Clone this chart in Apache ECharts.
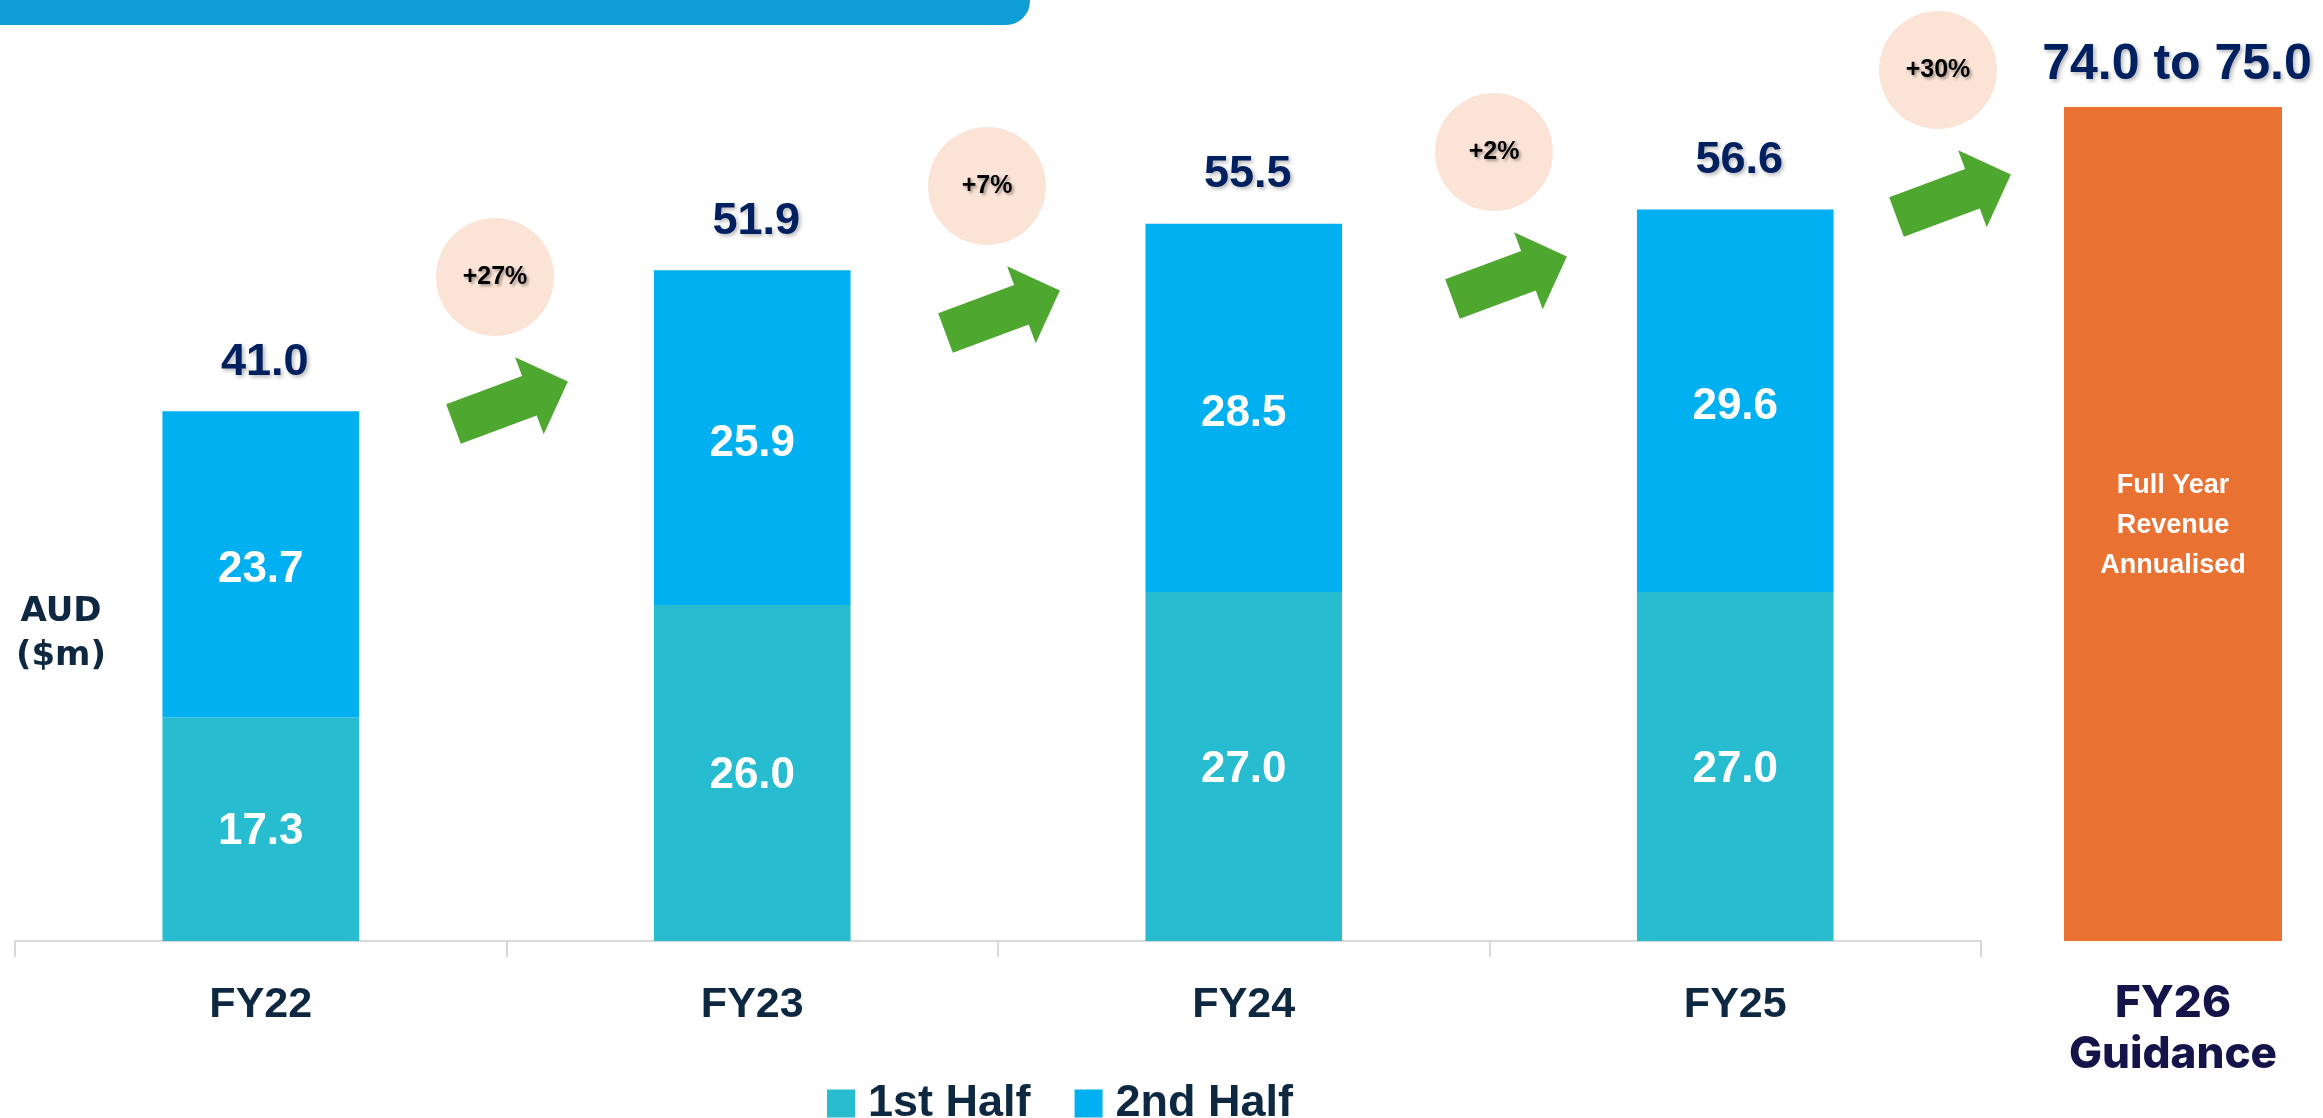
<!DOCTYPE html>
<html>
<head>
<meta charset="utf-8">
<script src="https://cdn.jsdelivr.net/npm/echarts@6/dist/echarts.min.js"></script>
<style>
  html, body { margin: 0; padding: 0; background: #fff; }
  #chart { width: 2323px; height: 1118px; }
</style>
</head>
<body>
<div id="chart"></div>
<script>
// data
var categories = ['FY22', 'FY23', 'FY24', 'FY25'];
var firstHalf = [17.3, 26.0, 27.0, 27.0];
var secondHalf = [23.7, 25.9, 28.5, 29.6];
var totals = [41.0, 51.9, 55.5, 56.6];
var guidanceCategory = ['FY26\nGuidance'];
var guidanceLow = 74.0;
var guidanceHigh = 75.0;
var growthLabels = ['+27%', '+7%', '+2%', '+30%'];

var navy = '#0E2841';
var font = '"Liberation Sans", Arial, sans-serif';

var chart = echarts.init(document.getElementById('chart'));

// growth bubbles + arrows (decoration, placed in pixels)
var bubbleCenters = [[495, 277], [987, 186], [1494, 152], [1938, 70]];
var arrowShape = [[0, -21], [81, -21], [81, -41], [122, 0], [81, 41], [81, 21], [0, 21]];
var deco = [];
deco.push({
    type: 'rect',
    shape: { x: -20, y: -40, width: 1050, height: 65, r: [0, 0, 24, 0] },
    style: { fill: '#0F9ED5' }
});
deco.push({
    type: 'text',
    x: 61, y: 634,
    style: {
        text: 'AUD\n($m)', font: 'bold 34px "DejaVu Sans", sans-serif', fill: navy,
        align: 'center', verticalAlign: 'middle', lineHeight: 44
    }
});
for (var i = 0; i < growthLabels.length; i++) {
    var c = bubbleCenters[i];
    deco.push({
        type: 'circle',
        shape: { cx: c[0], cy: c[1], r: 59 },
        style: { fill: '#FBE3D6' }
    });
    deco.push({
        type: 'text',
        x: c[0], y: c[1],
        style: {
            text: growthLabels[i], font: 'bold 25px ' + font, fill: '#000',
            align: 'center', verticalAlign: 'middle',
            textShadowColor: 'rgba(0,0,0,0.35)', textShadowBlur: 3,
            textShadowOffsetX: 2, textShadowOffsetY: 2
        }
    });
    deco.push({
        type: 'polygon',
        x: c[0] - 41.5, y: c[1] + 147,
        rotation: 0.356,
        shape: { points: arrowShape },
        style: { fill: '#4EA72E' }
    });
}

var topLabel = {
    show: true,
    position: 'top',
    offset: [4, 0],
    fontFamily: font,
    fontWeight: 'bold',
    color: '#002060',
    textShadowColor: 'rgba(0,0,0,0.3)',
    textShadowBlur: 4,
    textShadowOffsetX: 2,
    textShadowOffsetY: 2
};

var option = {
    backgroundColor: '#fff',
    animation: false,
    grid: [
        { left: 15, width: 1966, top: 101, bottom: 177 },
        { left: 2064, width: 218, top: 107, bottom: 177 }
    ],
    legend: {
        data: ['1st Half', '2nd Half'],
        left: 822,
        top: 1076,
        icon: 'rect',
        itemWidth: 28,
        itemHeight: 28,
        itemGap: 44,
        textStyle: {
            fontFamily: font, fontWeight: 'bold', fontSize: 45, color: navy,
            padding: [0, 0, 0, 8]
        }
    },
    xAxis: [
        {
            type: 'category',
            gridIndex: 0,
            data: categories,
            axisLine: { lineStyle: { color: '#D9D9D9', width: 2 } },
            axisTick: { show: true, length: 16, lineStyle: { color: '#D9D9D9', width: 2 } },
            axisLabel: {
                margin: 43, fontFamily: font, fontWeight: 'bold', fontSize: 43, color: navy
            }
        },
        {
            type: 'category',
            gridIndex: 1,
            data: guidanceCategory,
            axisLine: { show: false },
            axisTick: { show: false },
            axisLabel: {
                margin: 37, fontFamily: 'Inter, "Noto Sans", sans-serif', fontWeight: 800,
                fontSize: 44, lineHeight: 51, color: '#14144A'
            }
        }
    ],
    yAxis: [
        { type: 'value', gridIndex: 0, min: 0, max: 65, show: false },
        { type: 'value', gridIndex: 1, min: 0, max: guidanceHigh, show: false }
    ],
    series: [
        {
            name: '1st Half',
            type: 'bar',
            stack: 'rev',
            barWidth: '40%',
            data: firstHalf,
            itemStyle: { color: '#27BCD0' },
            label: {
                show: true, position: 'inside', offset: [0, 3], fontFamily: font, fontWeight: 'bold',
                fontSize: 44, color: '#fff',
                formatter: function (p) { return p.value.toFixed(1); }
            }
        },
        {
            name: '2nd Half',
            type: 'bar',
            stack: 'rev',
            barWidth: '40%',
            data: secondHalf,
            itemStyle: { color: '#00B0F0' },
            label: {
                show: true, position: 'inside', offset: [0, 6], fontFamily: font, fontWeight: 'bold',
                fontSize: 44, color: '#fff',
                formatter: function (p) { return p.value.toFixed(1); }
            }
        },
        {
            name: 'Total',
            type: 'line',
            data: totals,
            symbol: 'circle',
            symbolSize: 1,
            itemStyle: { color: 'rgba(0,0,0,0)' },
            lineStyle: { opacity: 0 },
            label: Object.assign({}, topLabel, {
                fontSize: 45, distance: 26,
                formatter: function (p) { return p.value.toFixed(1); }
            })
        },
        {
            name: 'FY26',
            type: 'bar',
            xAxisIndex: 1,
            yAxisIndex: 1,
            barWidth: '100%',
            data: [guidanceHigh],
            itemStyle: { color: '#E97132' },
            label: {
                show: true, position: 'inside', offset: [0, 2], fontFamily: font, fontWeight: 'bold',
                fontSize: 27, lineHeight: 40, color: '#fff',
                formatter: 'Full Year\nRevenue\nAnnualised'
            }
        },
        {
            name: 'Guidance',
            type: 'line',
            xAxisIndex: 1,
            yAxisIndex: 1,
            data: [guidanceHigh],
            symbol: 'circle',
            symbolSize: 1,
            itemStyle: { color: 'rgba(0,0,0,0)' },
            lineStyle: { opacity: 0 },
            label: Object.assign({}, topLabel, {
                fontSize: 50, distance: 16,
                formatter: function () {
                    return guidanceLow.toFixed(1) + ' to ' + guidanceHigh.toFixed(1);
                }
            })
        }
    ],
    graphic: deco
};

chart.setOption(option);
</script>
</body>
</html>
